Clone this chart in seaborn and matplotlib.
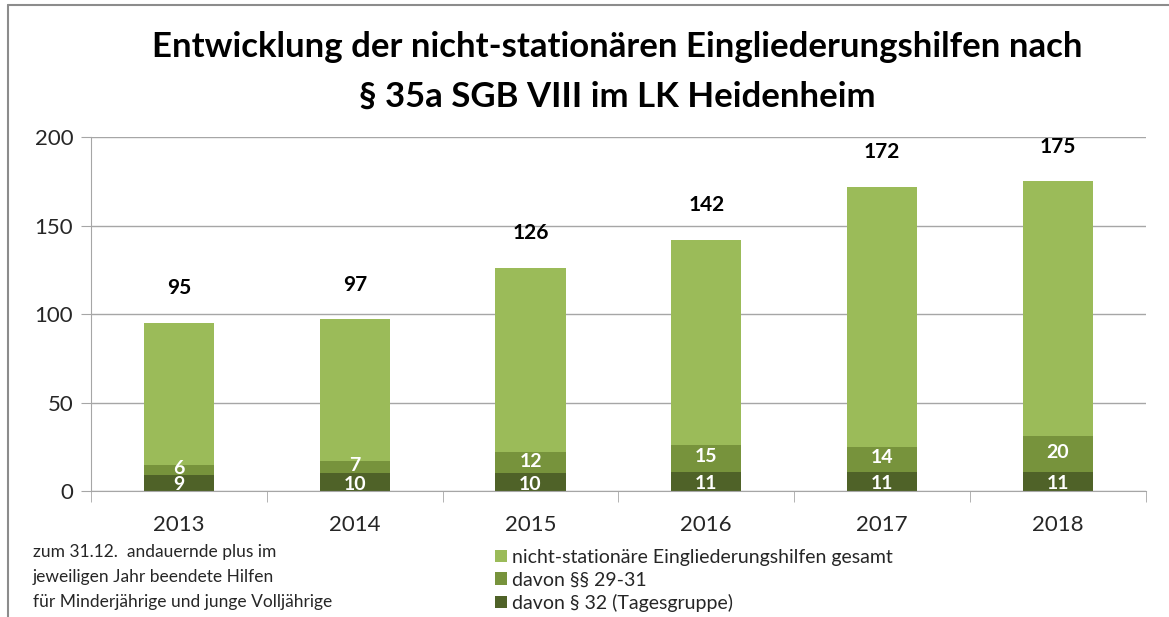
import matplotlib
matplotlib.use("Agg")
import matplotlib.pyplot as plt
import seaborn as sns
import pandas as pd
from matplotlib.patches import Patch
from matplotlib.lines import Line2D

years = ["2013", "2014", "2015", "2016", "2017", "2018"]
gesamt = [95, 97, 126, 142, 172, 175]
par_29_31 = [6, 7, 12, 15, 14, 20]
par_32 = [9, 10, 10, 11, 11, 11]

labels = ["nicht-stationäre Eingliederungshilfen gesamt",
          "davon §§ 29-31",
          "davon § 32 (Tagesgruppe)"]
colors = ["#9BBB59", "#77933C", "#4F6228"]
note_lines = ["zum 31.12.  andauernde plus im",
              "jeweiligen Jahr beendete Hilfen",
              "für Minderjährige und junge Volljährige"]

df = pd.DataFrame({"Jahr": years, "gesamt": gesamt,
                   "p29": par_29_31, "p32": par_32})
df["p29_top"] = df["p29"] + df["p32"]

sns.set_style("white")
plt.rcParams["font.family"] = ["Lato", "DejaVu Sans"]

fig = plt.figure(figsize=(11.69, 6.17), dpi=100)
ax = fig.add_axes([0.078, 0.204, 0.902, 0.574])

# overlapping bars: total, then 29-31 stacked on 32, then 32
for col, c in zip(["gesamt", "p29_top", "p32"], colors):
    sns.barplot(data=df, x="Jahr", y=col, color=c, width=0.4,
                saturation=1, linewidth=0, ax=ax)

ax.set_ylim(0, 200)
ax.set_xlim(-0.5, 5.5)
ax.set_yticks([0, 50, 100, 150, 200])
ax.yaxis.grid(True, color="#a6a6a6", linewidth=1)
ax.set_axisbelow(True)
ax.set_xlabel("")
ax.set_ylabel("")
for s in ["top", "right"]:
    ax.spines[s].set_visible(False)
for s in ["left", "bottom"]:
    ax.spines[s].set_color("#a6a6a6")
ax.tick_params(axis="y", left=True, length=7, color="#a6a6a6",
               labelsize=16, labelcolor="#262626", pad=6)
ax.tick_params(axis="x", bottom=False, labelsize=16, labelcolor="#262626", pad=14)
ax.set_xticks([i + 0.5 for i in range(-1, 6)], minor=True)
ax.tick_params(axis="x", which="minor", bottom=True, length=8, color="#a6a6a6")

# value labels
for i in range(len(years)):
    ax.annotate(str(gesamt[i]), (i, gesamt[i]), xytext=(0, 25),
                textcoords="offset points", ha="center", va="center",
                fontsize=15, fontweight="bold", color="black")
    ax.text(i, par_32[i] + par_29_31[i] / 2 + 1, str(par_29_31[i]), ha="center",
            va="center", fontsize=14, fontweight="bold", color="white")
    ax.text(i, par_32[i] / 2 - 1, str(par_32[i]), ha="center",
            va="center", fontsize=14, fontweight="bold", color="white")

fig.text(0.528, 0.924, "Entwicklung der nicht-stationären Eingliederungshilfen nach",
         ha="center", va="center", fontsize=25, fontweight="bold", color="black")
fig.text(0.528, 0.843, "§ 35a SGB VIII im LK Heidenheim",
         ha="center", va="center", fontsize=25, fontweight="bold", color="black")

for k, line in enumerate(note_lines):
    fig.text(0.028, 1 - (552 + 25 * k) / 617, line, ha="left", va="center",
             fontsize=12.5, color="#262626")

handles = [Patch(facecolor=c, edgecolor="none") for c in colors]
fig.legend(handles, labels, loc="upper left", bbox_to_anchor=(0.415, 0.126),
           frameon=False, fontsize=14, handlelength=0.6, handleheight=0.6,
           handletextpad=0.3, labelspacing=0.28, borderpad=0, labelcolor="#262626")

# outer frame (left and top)
fig.add_artist(Line2D([0.007, 0.007], [0.0, 0.992], color="#8c8c8c", linewidth=1.5))
fig.add_artist(Line2D([0.007, 1.0], [0.992, 0.992], color="#8c8c8c", linewidth=1.5))

fig.savefig("out.png", dpi=100)
